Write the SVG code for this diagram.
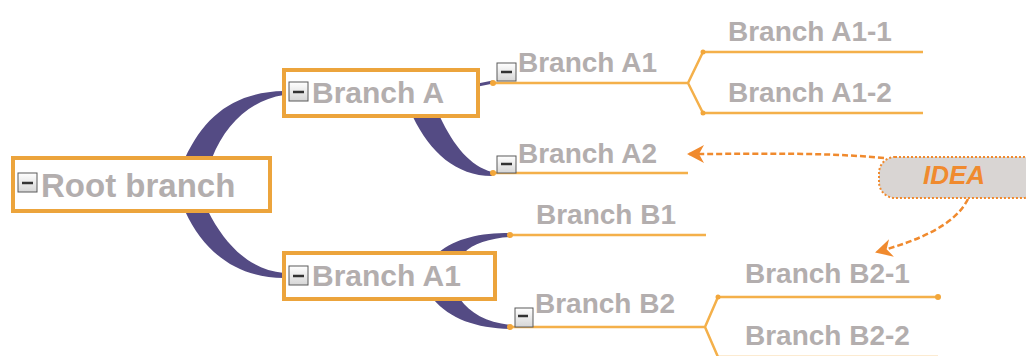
<svg xmlns="http://www.w3.org/2000/svg" width="1026" height="356" viewBox="0 0 1026 356">
  <style>
    .lbl { font-family: "Liberation Sans", Arial, sans-serif; font-weight: bold; fill: #b3aeae; }
    .box { fill: #ffffff; stroke: #eca43c; stroke-width: 4; }
    .line { fill: none; stroke: #f4b04a; stroke-width: 2.5; }
    .band { fill: #544b84; }
    .dot { fill: #f2a63a; }
    .tog rect { fill: url(#togFill); stroke: #5a5a5a; stroke-width: 1; }
    .tog line { stroke: #333333; stroke-width: 2.5; }
    .rel { fill: none; stroke: #f08a2e; stroke-width: 2.5; stroke-dasharray: 6 3; }
  </style>
  <defs>
    <linearGradient id="togFill" x1="0" y1="0" x2="0" y2="1">
      <stop offset="0" stop-color="#ffffff"/>
      <stop offset="1" stop-color="#d6d6d6"/>
    </linearGradient>
    <marker id="barb" viewBox="0 0 20 20" refX="18" refY="10" markerWidth="20" markerHeight="20" markerUnits="userSpaceOnUse" orient="auto">
      <path d="M20 10 L3 1 L8 10 L3 19 Z" fill="#f08a2e"/>
    </marker>
  </defs>

  <!-- connectors -->
  <g id="connectors">
    <!-- tapered bands -->
    <path class="band" d="M185 158 C205 115 235 92 284 91 L284 95 C250 100 225 125 212 158 Z"/>
    <path class="band" d="M185 211 C205 255 240 278 284 278 L284 273 C250 270 225 245 208 211 Z"/>
    <path class="band" d="M413 117 C430 152 456 176 492 176 L492 172 C470 166 454 146 440 117 Z"/>
    <path class="band" d="M438 253 C456 238 480 233 510 233 L510 237 C490 238 472 244 464 253 Z"/>
    <path class="band" d="M433 299 C450 319 476 328 510 329 L510 325 C486 322 470 313 460 299 Z"/>
    <path d="M478 85 L493 82" stroke="#544b84" stroke-width="3" fill="none"/>

    <!-- branch underlines and forks -->
    <path class="line" d="M493 83 L688 83 L703 52 L923 52 M688 83 L703 113 L923 113"/>
    <path class="line" d="M493 173 L688 173"/>
    <path class="line" d="M510 235 L706 235"/>
    <path class="line" d="M510 327 L705 327 L718 297 L938 297 M705 327 L718 357 L938 357"/>

    <circle class="dot" cx="493" cy="83" r="3"/>
    <circle class="dot" cx="703" cy="52" r="2.5"/>
    <circle class="dot" cx="703" cy="113" r="2.5"/>
    <circle class="dot" cx="493" cy="173" r="3"/>
    <circle class="dot" cx="510" cy="235" r="3"/>
    <circle class="dot" cx="510" cy="327" r="3"/>
    <circle class="dot" cx="718" cy="297" r="2.5"/>
    <circle class="dot" cx="938" cy="297" r="3"/>

    <!-- relationship arrows from IDEA -->
    <path class="rel" marker-end="url(#barb)" d="M884 158 C820 152 760 154 689 154"/>
    <path class="rel" marker-end="url(#barb)" d="M968 199 C955 225 920 240 877 252"/>
  </g>

  <g id="root">
    <rect class="box" x="13" y="158" width="257" height="53"/>
    <g class="tog"><rect x="18" y="173" width="19" height="19"/><line x1="22" y1="183" x2="33" y2="183"/></g>
    <text class="lbl" x="41" y="197" font-size="33">Root branch</text>
  </g>

  <g id="branch-a">
    <rect class="box" x="284" y="70" width="194" height="46"/>
    <g class="tog"><rect x="289" y="82" width="19" height="19"/><line x1="293" y1="92" x2="304" y2="92"/></g>
    <text class="lbl" x="312" y="103" font-size="30">Branch A</text>
  </g>

  <g id="branch-a1-lower">
    <rect class="box" x="284" y="253" width="211" height="46"/>
    <g class="tog"><rect x="289" y="266" width="19" height="19"/><line x1="293" y1="276" x2="304" y2="276"/></g>
    <text class="lbl" x="312" y="286" font-size="30">Branch A1</text>
  </g>

  <g id="branch-a1">
    <g class="tog"><rect x="497" y="63" width="19" height="18"/><line x1="501" y1="72" x2="512" y2="72"/></g>
    <text class="lbl" x="518" y="72" font-size="28">Branch A1</text>
  </g>

  <g id="branch-a2">
    <g class="tog"><rect x="497" y="156" width="19" height="17"/><line x1="501" y1="164" x2="512" y2="164"/></g>
    <text class="lbl" x="518" y="163" font-size="28">Branch A2</text>
  </g>

  <g id="branch-a1-1">
    <text class="lbl" x="728" y="41" font-size="28">Branch A1-1</text>
  </g>

  <g id="branch-a1-2">
    <text class="lbl" x="728" y="102" font-size="28">Branch A1-2</text>
  </g>

  <g id="branch-b1">
    <text class="lbl" x="536" y="224" font-size="28">Branch B1</text>
  </g>

  <g id="branch-b2">
    <g class="tog"><rect x="515" y="308" width="18" height="19"/><line x1="518" y1="316" x2="528" y2="316"/></g>
    <text class="lbl" x="535" y="313" font-size="28">Branch B2</text>
  </g>

  <g id="branch-b2-1">
    <text class="lbl" x="745" y="283" font-size="28">Branch B2-1</text>
  </g>

  <g id="branch-b2-2">
    <text class="lbl" x="745" y="345" font-size="28">Branch B2-2</text>
  </g>

  <g id="idea">
    <rect x="879" y="157" width="160" height="41" rx="16" fill="#d9d5d3" stroke="#f08a2e" stroke-width="2" stroke-dasharray="2 2"/>
    <text x="923" y="184" font-family="'Liberation Sans', Arial, sans-serif" font-weight="bold" font-style="italic" font-size="26" fill="#f08a2e">IDEA</text>
  </g>
</svg>
